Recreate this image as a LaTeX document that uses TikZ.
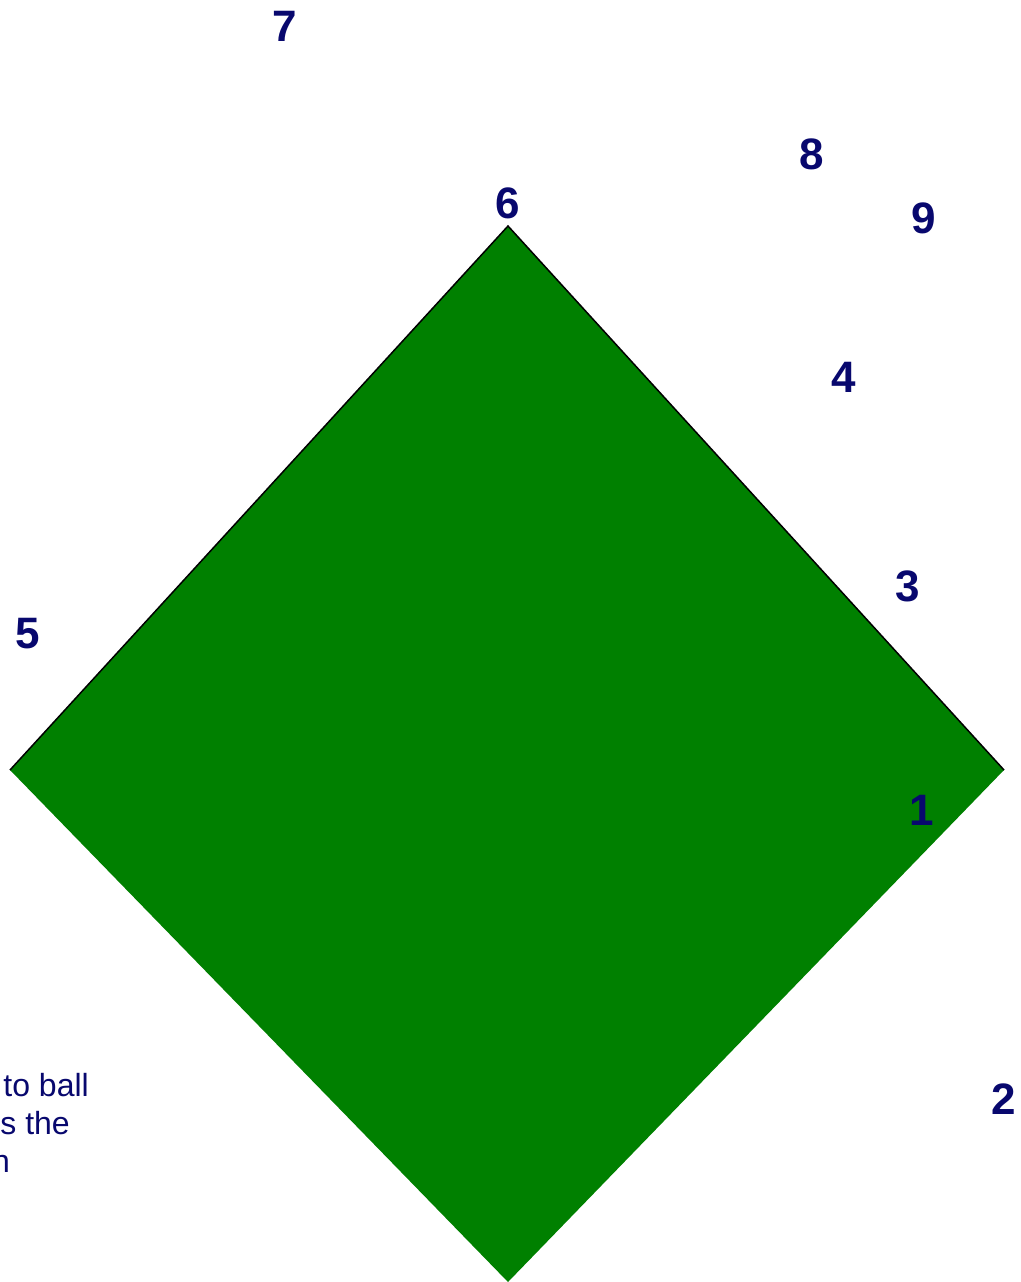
\documentclass[tikz,border=0pt]{standalone}
\usepackage{fontspec}
\setmainfont{Liberation Sans}
\definecolor{fieldgreen}{RGB}{0,128,0}
\definecolor{posnavy}{RGB}{8,8,110}
\begin{document}
\begin{tikzpicture}[x=1pt,y=-1pt,inner sep=0pt,
  posnum/.style={text=posnavy,font=\fontsize{44}{50}\selectfont\bfseries},
  note/.style={text=posnavy,font=\fontsize{32}{38}\selectfont,anchor=base east}]
\clip (0,0) rectangle (1020,1282);
\coordinate (top) at (508,226);
\coordinate (right) at (1004,770);
\coordinate (bottom) at (508,1282);
\coordinate (left) at (10,770);

\fill[fieldgreen] (top) -- (right) -- (bottom) -- (left) -- cycle;
\draw[line width=1.5pt] (left) -- (top) -- (right);

\node[posnum] (p7) at (285,26) {7};
\node[posnum] (p8) at (812,154) {8};
\node[posnum] (p9) at (924,218) {9};
\node[posnum] (p6) at (508,203) {6};
\node[posnum] (p4) at (844,377) {4};
\node[posnum] (p3) at (908,586) {3};
\node[posnum] (p5) at (28,634) {5};
\node[posnum] (p1) at (922,810) {1};
\node[posnum] (p2) at (1004,1099) {2};

\node[note] (n1) at (89,1096) {to ball};
\node[note] (n2) at (70,1134) {s the};
\node[note] (n3) at (10,1172) {n};
\end{tikzpicture}
\end{document}
